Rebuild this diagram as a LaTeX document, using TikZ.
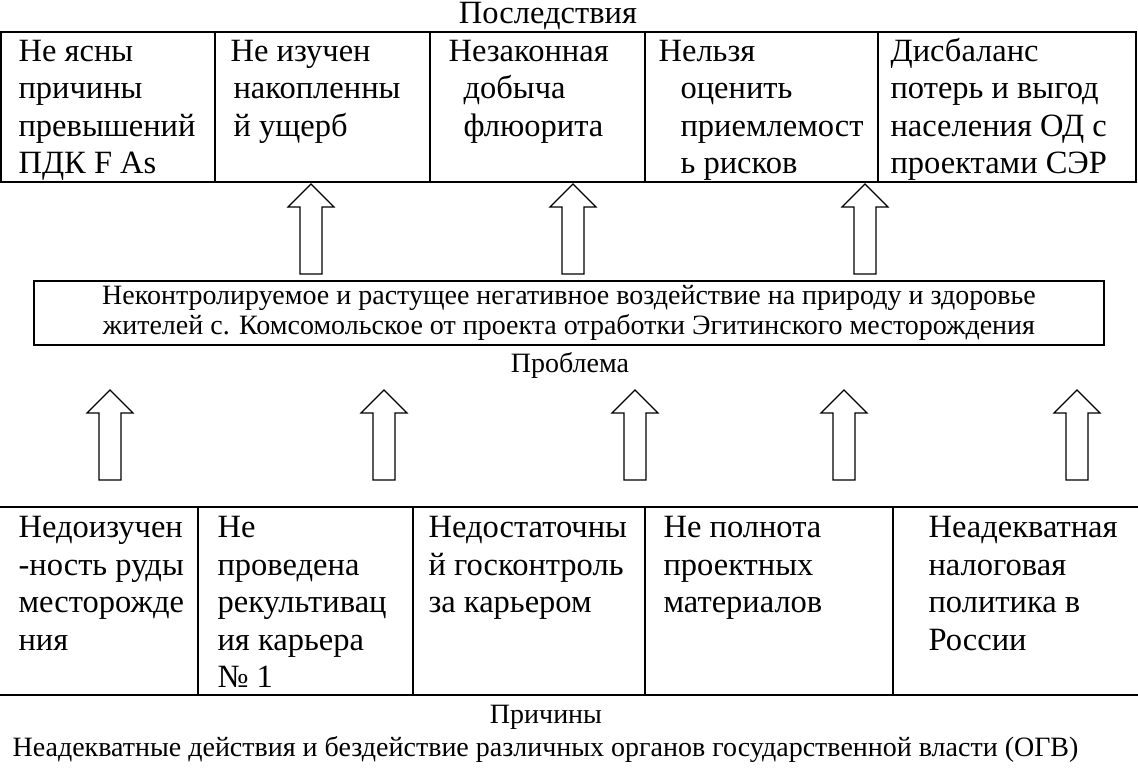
\documentclass[tikz,border=0pt]{standalone}
\usepackage{fontspec}
\setmainfont{Liberation Serif}
\usetikzlibrary{positioning}

\newcommand{\cellfont}{\fontsize{32.5}{37.5}\selectfont}
\newcommand{\capfont}{\fontsize{28}{30}\selectfont}

\begin{document}
\begin{tikzpicture}[x=1pt, y=-1pt, line width=1.2pt,
    cell/.style={anchor=north west, inner sep=0pt, align=left, font=\cellfont},
    caption/.style={anchor=base, inner sep=0pt, font=\capfont},
    blockarrow/.pic={
      \draw[line width=1.1pt] (-11,0) -- (11,0) -- (11,-67) -- (23,-67) -- (0,-90)
        -- (-23,-67) -- (-11,-67) -- cycle;}]
    \useasboundingbox (0,0) rectangle (1138,778);

    % consequences
    \node[anchor=base, inner sep=0pt, font=\cellfont] (conseq) at (548,24) {Последствия};
    \draw (1,32) rectangle (1136,182);
    \foreach \x in {215,430,645,878} \draw (\x,32) -- (\x,182);
    \node[cell] (c1) at (18,34.25) {\strut Не ясны\\причины\\превышений\\ПДК F As};
    \node[cell] (c2) at (230,34.25) {\strut Не изучен\\\hspace*{3pt}накопленны\\\hspace*{3pt}й ущерб};
    \node[cell] (c3) at (448,34.25) {\strut Незаконная\\\hspace*{15pt}добыча\\\hspace*{15pt}флюорита};
    \node[cell] (c4) at (658,34.25) {\strut Нельзя\\\hspace*{22pt}оценить\\\hspace*{22pt}приемлемост\\\hspace*{22pt}ь рисков};
    \node[cell] (c5) at (890,34.25) {\strut Дисбаланс\\потерь и выгод\\населения ОД с\\проектами СЭР};

    \pic at (311,274) {blockarrow};
    \pic at (573,274) {blockarrow};
    \pic at (865,274) {blockarrow};

    % problem
    \node[draw, minimum width=1070pt, minimum height=64pt, align=center,
          font=\capfont] (problem) at (569,313)
          {Неконтролируемое и растущее негативное воздействие на природу и здоровье\\
           жителей с. Комсомольское от проекта отработки Эгитинского месторождения};
    \node[caption] (problemlbl) at (570,372) {Проблема};

    \pic at (110,480) {blockarrow};
    \pic at (384,480) {blockarrow};
    \pic at (635,480) {blockarrow};
    \pic at (844,480) {blockarrow};
    \pic at (1077,480) {blockarrow};

    % causes
    \draw (0,507) -- (1138,507);
    \draw (0,695) -- (1138,695);
    \foreach \x in {198,413,645,893} \draw (\x,507) -- (\x,695);
    \node[cell] (r1) at (18,510.75) {\strut Недоизучен\\-ность руды\\месторожде\\ния};
    \node[cell] (r2) at (217,510.75) {\strut Не\\проведена\\рекультивац\\ия карьера\\№ 1};
    \node[cell] (r3) at (428,510.75) {\strut Недостаточны\\й госконтроль\\за карьером};
    \node[cell] (r4) at (663,510.75) {\strut Не полнота\\проектных\\материалов};
    \node[cell] (r5) at (928,510.75) {\strut Неадекватная\\налоговая\\политика в\\России};

    \node[caption] (causeslbl) at (546,723) {Причины};
    \node[caption, anchor=base west] (ogv) at (12,756)
      {Неадекватные действия и бездействие различных органов государственной власти (ОГВ)};
\end{tikzpicture}
\end{document}
